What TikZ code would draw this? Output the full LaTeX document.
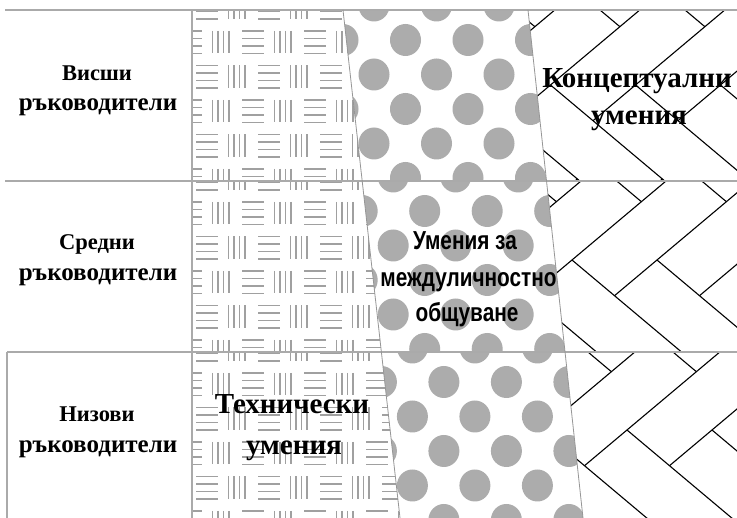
\documentclass[tikz,border=0pt]{standalone}
\usepackage{fontspec}
\setmainfont{Liberation Serif}
\newfontfamily\narrowsans[FakeStretch=0.8]{Liberation Sans}
\definecolor{gridgray}{RGB}{170,170,170}
\definecolor{edgegray}{RGB}{150,150,150}
\definecolor{techgray}{RGB}{160,160,160}
\definecolor{dotgray}{RGB}{172,172,172}
\tikzset{
  gridline/.style={draw=gridgray, line width=1.1pt},
  edgeline/.style={draw=edgegray, line width=0.8pt},
  techline/.style={draw=techgray, line width=1.9pt},
  dotfill/.style={fill=dotgray},
  bonestyle/.style={draw=black, line width=1.1pt},
  rowlabel/.style={font=\bfseries\fontsize{22.5}{22.5}\selectfont, anchor=base, inner sep=0pt},
  widelabel/.style={font=\bfseries\fontsize{25}{25}\selectfont, anchor=base, inner sep=0pt},
  skilltext/.style={font=\bfseries\fontsize{29}{29}\selectfont, anchor=base, inner sep=0pt},
  midtext/.style={font=\narrowsans\bfseries\fontsize{26}{26}\selectfont, anchor=base, inner sep=0pt},
}
\begin{document}
\begin{tikzpicture}[x=1pt,y=-1pt]
\useasboundingbox (0,0) rectangle (737,518);
\fill[white] (0,0) rectangle (737,518);
\foreach \T/\Tb/\Ba/\Bb/\Ca/\Cb/\Ox/\Oy in {10/181/343/362.2/528/546.5/550.5/85, 181/352/362.2/381.4/546.5/565/572/260, 352/518/381.4/400/565/583/627/430}{
  % technical pattern
  \begin{scope}
    \clip (192,\T) -- (\Ba,\T) -- (\Bb,\Tb) -- (192,\Tb) -- cycle;
    \foreach \k in {0,...,5}{
      \pgfmathsetmacro\rr{\T-13.5+34.5*\k}
      \pgfmathsetmacro\off{isodd(\k) ? 180 : 196}
      \foreach \j in {0,...,3}{
        \pgfmathsetmacro\xa{\off+62*\j}
        \foreach \d in {0,7.5,15,22.5}{
          \draw[techline] ({\xa},{\rr+\d}) -- ++(22,0);
        }
        \foreach \d in {32.5,38,43.5,49}{
          \draw[techline] ({\xa+\d},{\rr}) -- ++(0,22.5);
        }
      }
    }
  \end{scope}
  % dots
  \begin{scope}
    \clip (\Ba,\T) -- (\Ca,\T) -- (\Cb,\Tb) -- (\Bb,\Tb) -- cycle;
    \foreach \k in {0,...,6}{
      \pgfmathsetmacro\yy{\T-4.5+34.5*\k}
      \pgfmathsetmacro\xo{\Ba+(iseven(\k) ? 31 : 0)}
      \foreach \j in {-1,...,4}{
        \fill[dotfill] ({\xo+62.5*\j},{\yy}) ellipse [x radius=15.5pt, y radius=16pt];
      }
    }
  \end{scope}
  % herringbone
  \begin{scope}
    \clip (\Ca,\T) -- (737,\T) -- (737,\Tb) -- (\Cb,\Tb) -- cycle;
    \foreach \n in {-4,...,3}{
      \foreach \m in {-1,0,1}{
        \draw[bonestyle] ({\Ox+85*\n},{\Oy-188*\m}) -- ++(154.5,129.8);
        \draw[bonestyle] ({\Ox+42.5+85*\n},{\Oy+35.7-188*\m}) -- ++(154.5,-129.8);
      }
    }
  \end{scope}
}
% table lines
\draw[gridline] (5,10) -- (737,10);
\draw[gridline] (5,181) -- (737,181);
\draw[gridline] (7,352) -- (737,352);
\draw[gridline] (7,352) -- (7,518);
\draw[gridline] (192,10) -- (192,518);
\draw[edgeline] (343,10) -- (400,518);
\draw[edgeline] (528,10) -- (583,518);
% row labels
\node[rowlabel] (r1a) at (97,81) {Висши};
\node[widelabel] (r1b) at (98,111) {ръководители};
\node[rowlabel] (r2a) at (97,250) {Средни};
\node[widelabel] (r2b) at (98,281) {ръководители};
\node[rowlabel] (r3a) at (97,422) {Низови};
\node[widelabel] (r3b) at (98,453) {ръководители};
% skills
\node[skilltext] (t1) at (292,414) {Технически};
\node[skilltext] (t2) at (294,455) {умения};
\node[skilltext] (c1) at (637,88) {Концептуални};
\node[skilltext] (c2) at (639,125) {умения};
\node[midtext] (m1) at (465,250) {Умения за};
\node[midtext] (m2) at (468.5,287) {междуличностно};
\node[midtext] (m3) at (467,322) {общуване};
\end{tikzpicture}
\end{document}
